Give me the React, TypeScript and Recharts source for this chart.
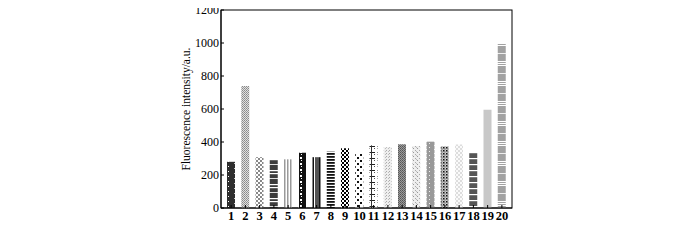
import React from "react";
import { BarChart, Bar, XAxis, YAxis, Cell, Label } from "recharts";

const categories = ["1","2","3","4","5","6","7","8","9","10","11","12","13","14","15","16","17","18","19","20"];
const intensity = [280, 740, 308, 297, 295, 335, 308, 342, 362, 328, 380, 368, 386, 376, 402, 374, 385, 336, 596, 1000];
const yTicks = [0, 200, 400, 600, 800, 1000, 1200];

const data = categories.map((c, i) => ({ name: c, value: intensity[i] }));

const FONT = "'Liberation Serif', 'Times New Roman', serif";

const Patterns = () => (
  <svg width={0} height={0} style={{ position: "absolute" }}>
    <defs>
      <pattern id="p1" width="8" height="5" patternUnits="userSpaceOnUse">
        <rect width="8" height="5" fill="#2e2e2e" />
        <rect x="4" y="1" width="1" height="1" fill="#fff" />
        <rect x="2" y="3" width="1" height="1" fill="#ccc" />
      </pattern>
      <pattern id="p2" width="2" height="2" patternUnits="userSpaceOnUse">
        <rect width="2" height="2" fill="#e0e0e0" />
        <rect width="1" height="1" fill="#888" />
        <rect x="1" y="1" width="1" height="1" fill="#999" />
      </pattern>
      <pattern id="p3" width="4" height="4" patternUnits="userSpaceOnUse">
        <rect width="4" height="4" fill="#fff" />
        <rect width="2" height="2" fill="#888" />
        <rect x="2" y="2" width="2" height="2" fill="#888" />
      </pattern>
      <pattern id="p4" width="8" height="14" patternUnits="userSpaceOnUse">
        <rect width="8" height="14" fill="#3c3c3c" />
        <rect y="2" width="8" height="1.2" fill="#fff" />
        <rect y="5" width="8" height="1.2" fill="#fff" />
        <rect y="10" width="8" height="1" fill="#ddd" />
      </pattern>
      <pattern id="p5" width="3" height="4" patternUnits="userSpaceOnUse">
        <rect width="3" height="4" fill="#fff" />
        <rect width="1.5" height="4" fill="#999" />
      </pattern>
      <pattern id="p6" width="8" height="6" patternUnits="userSpaceOnUse">
        <rect width="8" height="6" fill="#111" />
        <rect x="2" width="1" height="6" fill="#fff" />
        <rect x="4" y="1" width="2" height="2" fill="#fff" />
        <rect x="5" y="4" width="1" height="1" fill="#fff" />
      </pattern>
      <pattern id="p7" width="8" height="4" patternUnits="userSpaceOnUse">
        <rect width="8" height="4" fill="#111" />
        <rect x="2" width="1" height="4" fill="#fff" />
        <rect x="3" width="4" height="4" fill="#555" />
      </pattern>
      <pattern id="p8" width="4" height="3" patternUnits="userSpaceOnUse">
        <rect width="4" height="3" fill="#fff" />
        <rect width="4" height="1.8" fill="#111" />
      </pattern>
      <pattern id="p9" width="4" height="4" patternUnits="userSpaceOnUse">
        <rect width="4" height="4" fill="#fff" />
        <rect width="2" height="2" fill="#000" />
        <rect x="2" y="2" width="2" height="2" fill="#000" />
      </pattern>
      <pattern id="p10" width="6" height="6" patternUnits="userSpaceOnUse">
        <rect width="6" height="6" fill="#fff" />
        <rect x="1" y="1" width="2" height="2" fill="#111" />
        <rect x="4" y="4" width="2" height="2" fill="#111" />
      </pattern>
      <pattern id="p11" width="8" height="6" patternUnits="userSpaceOnUse">
        <rect width="8" height="6" fill="#fff" />
        <rect x="1" y="2" width="6" height="1" fill="#222" />
        <rect x="3" y="0" width="1" height="6" fill="#333" />
        <rect x="1" y="4" width="1" height="1" fill="#555" />
        <rect x="6" y="4" width="1" height="1" fill="#555" />
      </pattern>
      <pattern id="p12" width="3" height="3" patternUnits="userSpaceOnUse">
        <rect width="3" height="3" fill="#eee" />
        <rect width="1" height="1" fill="#aaa" />
        <rect x="2" y="1" width="1" height="1" fill="#bbb" />
      </pattern>
      <pattern id="p13" width="2" height="2" patternUnits="userSpaceOnUse">
        <rect width="2" height="2" fill="#9a9a9a" />
        <rect width="1" height="1" fill="#555" />
        <rect x="1" y="1" width="1" height="1" fill="#666" />
      </pattern>
      <pattern id="p14" width="4" height="4" patternUnits="userSpaceOnUse">
        <rect width="4" height="4" fill="#eee" />
        <rect x="1" width="1" height="1" fill="#999" />
        <rect x="3" y="2" width="1" height="1" fill="#aaa" />
        <rect x="0" y="3" width="1" height="1" fill="#bbb" />
      </pattern>
      <pattern id="p15" width="8" height="4" patternUnits="userSpaceOnUse">
        <rect width="8" height="4" fill="#999" />
        <rect x="2" y="1" width="1" height="1" fill="#eee" />
        <rect x="5" y="3" width="1" height="1" fill="#eee" />
      </pattern>
      <pattern id="p16" width="3" height="3" patternUnits="userSpaceOnUse">
        <rect width="3" height="3" fill="#ccc" />
        <rect width="1.5" height="1.5" fill="#111" />
        <rect x="1.5" y="1.5" width="1" height="1" fill="#444" />
      </pattern>
      <pattern id="p17" width="4" height="4" patternUnits="userSpaceOnUse">
        <rect width="4" height="4" fill="#fafafa" />
        <rect width="2" height="2" fill="#ddd" />
        <rect x="2" y="2" width="2" height="2" fill="#ddd" />
      </pattern>
      <pattern id="p18" width="8" height="6" patternUnits="userSpaceOnUse">
        <rect width="8" height="6" fill="#555" />
        <rect y="2" width="8" height="1.2" fill="#fff" />
      </pattern>
      <pattern id="p19" width="4" height="4" patternUnits="userSpaceOnUse">
        <rect width="4" height="4" fill="#c8c8c8" />
      </pattern>
      <pattern id="p20" width="8" height="20" patternUnits="userSpaceOnUse">
        <rect width="8" height="20" fill="#a2a2a2" />
        <rect y="1" width="8" height="1" fill="#fff" />
        <rect y="3" width="8" height="1" fill="#fff" />
        <rect y="5" width="8" height="1" fill="#fff" />
        <rect y="13" width="8" height="1" fill="#eee" />
      </pattern>
    </defs>
  </svg>
);

const XTick = (props: any) => {
  const { x, y, payload } = props;
  return (
    <g>
      <line x1={x} y1={y} x2={x} y2={y - 3} stroke="#000" strokeWidth={1} />
      <text x={x} y={y + 12} textAnchor="middle" fontFamily={FONT} fontWeight="bold" fontSize={12.5} fill="#000">
        {payload.value}
      </text>
    </g>
  );
};

const YTick = (props: any) => {
  const { x, y, payload } = props;
  return (
    <g>
      <line x1={x} y1={y} x2={x + 3} y2={y} stroke="#000" strokeWidth={1} />
      <text x={x - 2} y={y + 4} textAnchor="end" fontFamily={FONT} fontSize={12} fill="#000">
        {payload.value}
      </text>
    </g>
  );
};

export default function App() {
  return (
    <div style={{ position: "relative", width: 700, height: 238, marginTop: -8 }}>
      <Patterns />
      <BarChart
        width={700}
        height={238}
        data={data}
        margin={{ top: 10, right: 196, left: 0, bottom: 0 }}
        barSize={8}
      >
        <rect x={213} y={10} width={291} height={198} fill="none" stroke="#000" strokeWidth={1} />
        <XAxis
          dataKey="name"
          height={30}
          interval={0}
          padding={{ left: 3, right: 3 }}
          tickLine={false}
          tickSize={0}
          tickMargin={0}
          axisLine={{ stroke: "#000" }}
          tick={<XTick />}
        />
        <YAxis
          width={213}
          domain={[0, 1200]}
          ticks={yTicks}
          interval={0}
          tickLine={false}
          tickSize={0}
          tickMargin={0}
          axisLine={{ stroke: "#000" }}
          tick={<YTick />}
        >
          <Label
            value="Fluorescence intensity/a.u."
            angle={-90}
            position="center"
            dx={71}
            style={{ fontFamily: FONT, fontSize: 11.5, fill: "#000" }}
          />
        </YAxis>
        <Bar dataKey="value" isAnimationActive={false}>
          {data.map((d, i) => (
            <Cell key={d.name} fill={`url(#p${i + 1})`} />
          ))}
        </Bar>
      </BarChart>
    </div>
  );
}
